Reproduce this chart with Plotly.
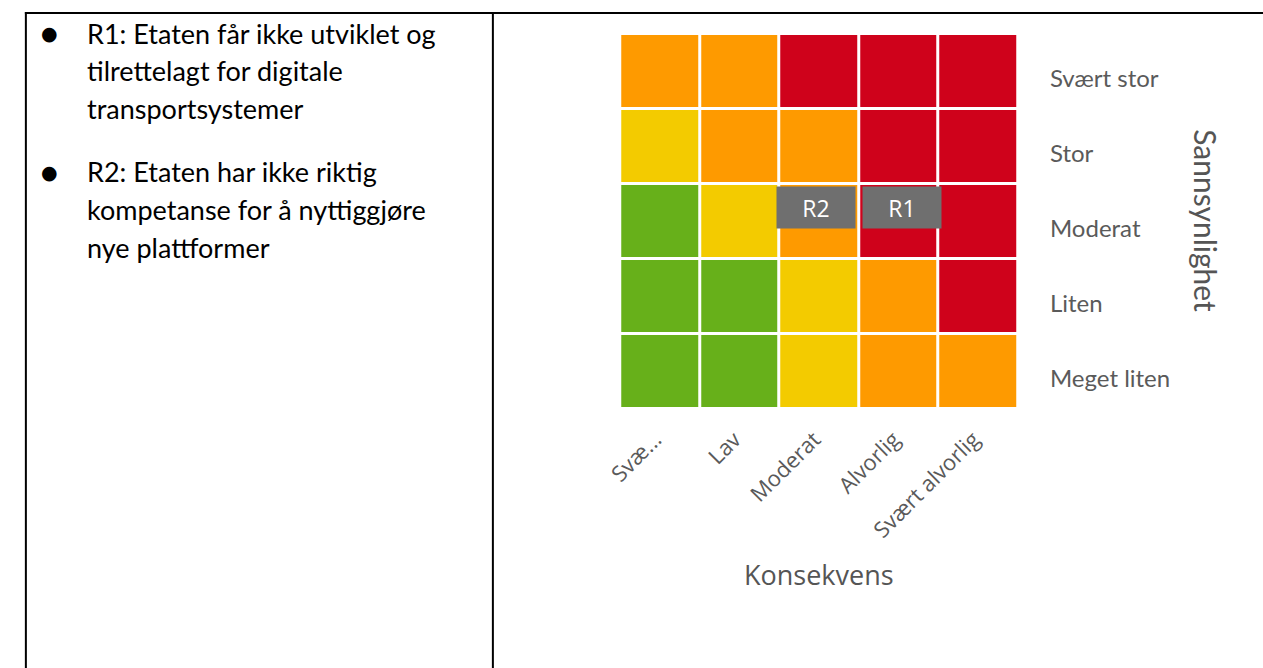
import plotly.graph_objects as go

W, H = 1263, 668

# data
consequence = ["Svæ...", "Lav", "Moderat", "Alvorlig", "Svært alvorlig"]
probability = ["Meget liten", "Liten", "Moderat", "Stor", "Svært stor"]
# risk level per cell (1 green, 2 yellow, 3 orange, 4 red), rows bottom -> top
risk_levels = [
    [1, 1, 2, 3, 3],
    [1, 1, 2, 3, 4],
    [1, 2, 3, 4, 4],
    [2, 3, 3, 4, 4],
    [3, 3, 4, 4, 4],
]
risk_ids = ["R2", "R1"]
risk_consequence = ["Moderat", "Alvorlig"]
risk_probability = ["Moderat", "Moderat"]

bullet_items = [
    ["R1: Etaten får ikke utviklet og", "tilrettelagt for digitale", "transportsystemer"],
    ["R2: Etaten har ikke riktig", "kompetanse for å nyttiggjøre", "nye plattformer"],
]

level_colors = ["#67b01a", "#f3cb00", "#fe9a00", "#cf021b"]


def px_x(v):
    return v / W


def px_y(v):
    return 1 - v / H


scale = []
for i, c in enumerate(level_colors):
    scale.append([i / 4, c])
    scale.append([(i + 1) / 4, c])

fig = go.Figure(go.Heatmap(
    z=risk_levels,
    x=consequence,
    y=probability,
    zmin=0.5,
    zmax=4.5,
    colorscale=scale,
    showscale=False,
    xgap=3,
    ygap=3,
    hoverinfo="skip",
))

fig.update_layout(
    width=W,
    height=H,
    margin=dict(l=0, r=0, t=0, b=0),
    paper_bgcolor="white",
    plot_bgcolor="white",
    xaxis=dict(
        domain=[px_x(612), px_x(1015)],
        tickangle=-45,
        tickfont=dict(family="Open Sans, Lato, sans-serif", size=22, color="#5a5a5a"),
        ticks="outside",
        ticklen=8,
        tickcolor="white",
        ticklabelshift=-5,
        showgrid=False,
        zeroline=False,
        fixedrange=True,
    ),
    yaxis=dict(
        domain=[px_y(409), px_y(34)],
        side="right",
        tickfont=dict(family="Lato, Open Sans, sans-serif", size=24, color="#5a5a5a"),
        ticks="outside",
        ticklen=26,
        tickcolor="white",
        ticklabelshift=7,
        showgrid=False,
        zeroline=False,
        fixedrange=True,
    ),
)

# risk markers
for rid, cx, cy, dx in zip(risk_ids, risk_consequence, risk_probability, [-3, 3]):
    fig.add_annotation(
        x=cx, y=cy, xref="x", yref="y",
        xanchor="center", yanchor="middle",
        text=rid, showarrow=False,
        width=76, height=39,
        bgcolor="#6f6f6f",
        font=dict(family="Open Sans, Lato, sans-serif", size=23, color="white"),
        xshift=dx, yshift=14,
    )

fig.add_annotation(
    x=px_x(813), y=px_y(574), xref="paper", yref="paper",
    xanchor="center", yanchor="middle",
    text="Konsekvens", showarrow=False,
    font=dict(family="Open Sans, Lato, sans-serif", size=27, color="#555555"),
)
fig.add_annotation(
    x=px_x(1205), y=px_y(221), xref="paper", yref="paper",
    xanchor="center", yanchor="middle",
    text="Sannsynlighet", showarrow=False, textangle=90,
    font=dict(family="Lato, Open Sans, sans-serif", size=30, color="#555555"),
)

# left cell text
text_font = dict(family="Lato, Liberation Sans, sans-serif", size=27, color="black")
y0 = 33
for item in bullet_items:
    fig.add_annotation(
        x=px_x(34), y=px_y(y0), xref="paper", yref="paper",
        xanchor="center", yanchor="middle",
        text="●", showarrow=False,
        font=dict(family="DejaVu Sans", size=19, color="black"),
    )
    for line in item:
        fig.add_annotation(
            x=px_x(70), y=px_y(y0), xref="paper", yref="paper",
            xanchor="left", yanchor="middle",
            text=line, showarrow=False, font=text_font,
        )
        y0 += 37.5
    y0 += 26.5

# table borders
border = dict(color="black", width=2)
fig.add_shape(type="line", xref="paper", yref="paper",
              x0=px_x(9), x1=1, y0=px_y(13), y1=px_y(13), line=border)
fig.add_shape(type="line", xref="paper", yref="paper",
              x0=px_x(10), x1=px_x(10), y0=px_y(12), y1=0, line=border)
fig.add_shape(type="line", xref="paper", yref="paper",
              x0=px_x(483), x1=px_x(483), y0=px_y(12), y1=0, line=border)

fig.write_html("out.html", config={"displayModeBar": False},
               post_script="document.body.style.margin='0';")
